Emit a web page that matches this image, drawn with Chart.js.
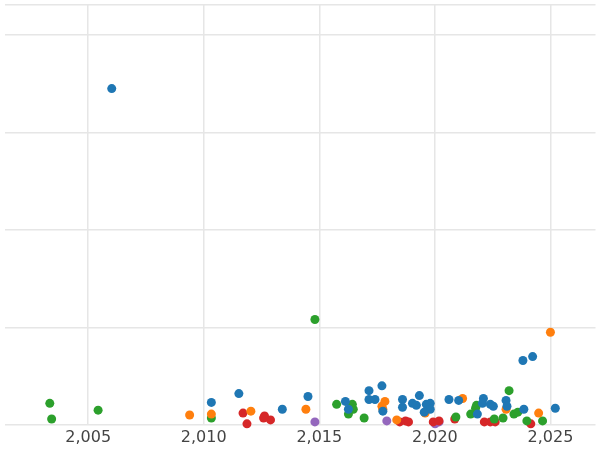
<!DOCTYPE html>
<html>
<head>
<meta charset="utf-8">
<script src="https://cdn.jsdelivr.net/npm/chart.js@4/dist/chart.umd.min.js"></script>
<style>
  html, body { margin: 0; padding: 0; background: #fff; }
  #wrap { width: 600px; height: 450px; }
</style>
</head>
<body>
<div id="wrap"><canvas id="chart"></canvas></div>
<script>
// Dados por série: [ano, valor]
const blueX = [2006.02, 2010.33, 2011.52, 2013.40, 2014.51, 2016.13, 2016.26, 2017.15, 2017.41, 2017.71, 2017.15, 2017.75, 2018.60, 2018.60, 2019.03, 2019.20, 2019.33, 2019.63, 2019.80, 2019.80, 2019.54, 2020.61, 2021.03, 2022.10, 2022.06, 2021.84, 2022.40, 2022.53, 2023.08, 2023.12, 2023.81, 2024.23, 2023.85, 2025.21];
const blueY = [3.45, 0.23, 0.32, 0.16, 0.29, 0.24, 0.16, 0.26, 0.26, 0.40, 0.35, 0.14, 0.26, 0.18, 0.22, 0.20, 0.30, 0.21, 0.22, 0.16, 0.13, 0.26, 0.25, 0.27, 0.22, 0.11, 0.21, 0.19, 0.25, 0.19, 0.66, 0.70, 0.16, 0.17];
const orangeX = [2009.39, 2010.33, 2012.04, 2014.42, 2017.71, 2017.84, 2017.75, 2019.58, 2021.20, 2023.08, 2024.49, 2025.00, 2018.35];
const orangeY = [0.10, 0.11, 0.14, 0.16, 0.19, 0.24, 0.16, 0.12, 0.27, 0.16, 0.12, 0.95, 0.05];
const greenX = [2003.34, 2003.42, 2005.43, 2010.33, 2014.81, 2015.75, 2016.26, 2016.43, 2016.47, 2016.94, 2021.55, 2021.76, 2021.80, 2020.91, 2022.57, 2022.95, 2023.21, 2023.42, 2023.59, 2023.98, 2024.66];
const greenY = [0.22, 0.06, 0.15, 0.07, 1.08, 0.21, 0.11, 0.21, 0.16, 0.07, 0.11, 0.17, 0.20, 0.08, 0.06, 0.07, 0.35, 0.11, 0.13, 0.04, 0.04];
const redX = [2011.70, 2011.87, 2012.63, 2012.89, 2012.59, 2018.48, 2018.73, 2018.86, 2019.93, 2020.18, 2020.86, 2022.14, 2022.40, 2022.61, 2024.15];
const redY = [0.12, 0.01, 0.09, 0.05, 0.07, 0.03, 0.04, 0.03, 0.03, 0.04, 0.06, 0.03, 0.03, 0.03, 0.01];
const purpleX = [2014.81, 2017.92, 2020.18, 2020.01];
const purpleY = [0.03, 0.04, 0.03, 0.01];
const xTicks = [2005, 2010, 2015, 2020, 2025];

function toPoints(xs, ys) {
    return xs.map((x, i) => ({ x: x, y: ys[i] }));
}

const series = [
    { x: blueX, y: blueY, color: '#1f77b4' },
    { x: orangeX, y: orangeY, color: '#ff7f0e' },
    { x: greenX, y: greenY, color: '#2ca02c' },
    { x: redX, y: redY, color: '#d62728' },
    { x: purpleX, y: purpleY, color: '#9467bd' }
];

new Chart(document.getElementById('chart'), {
    type: 'scatter',
    data: {
        datasets: series.map(s => ({
            data: toPoints(s.x, s.y),
            backgroundColor: s.color,
            borderWidth: 0,
            pointRadius: 4.5,
            clip: 5
        }))
    },
    options: {
        responsive: true,
        maintainAspectRatio: false,
        animation: false,
        layout: { padding: 0 },
        plugins: { legend: { display: false }, tooltip: { enabled: false } },
        scales: {
            x: {
                type: 'linear',
                min: 2001.38,
                max: 2026.95,
                afterBuildTicks: axis => { axis.ticks = xTicks.map(v => ({ value: v })); },
                grid: { color: '#e6e6e6', lineWidth: 1.5, drawTicks: false },
                border: { display: false },
                ticks: { color: '#444', padding: 3, font: { family: 'DejaVu Sans', size: 16 } }
            },
            y: {
                min: 0,
                max: 4.313,
                grid: { color: '#e6e6e6', lineWidth: 1.5, drawTicks: false },
                border: { display: false },
                ticks: { display: false, stepSize: 1 }
            }
        }
    }
});
</script>
</body>
</html>
